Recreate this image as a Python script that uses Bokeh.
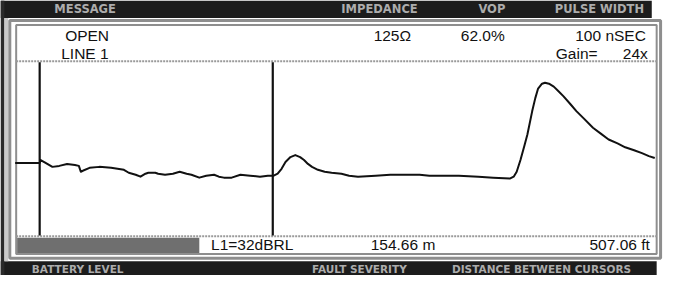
from bokeh.plotting import figure
from bokeh.models import Range1d, Label
from bokeh.embed import file_html
from bokeh.resources import INLINE

# ---------------- data ----------------
# TDR trace: distance from cursor 1 (metres) and reflected amplitude (arbitrary units)
dist_m = [-16.25, 0.0, 0.65, 3.9, 8.45, 13.0, 18.2, 23.4, 26.0, 27.3, 28.6, 33.1, 39.6,
          47.4, 55.9, 59.1, 63.7, 66.9, 70.2, 72.1, 76.7, 78.6, 83.2, 88.4, 92.9, 97.5,
          100.7, 105.9, 110.5, 115.7, 118.9, 122.2, 127.4, 133.2, 139.7, 146.2, 151.4,
          155.3, 157.9, 160.5, 163.1, 166.4, 169.6, 172.8, 175.4, 178.0, 180.7, 184.6,
          189.1, 193.7, 200.2, 205.3, 211.2, 222.9, 232.6, 242.4, 252.1, 258.6, 265.1,
          278.1, 291.1, 300.9, 311.9, 314.5, 316.5, 319.0, 321.7, 323.6, 326.8, 328.8,
          330.7, 333.3, 335.3, 337.9, 341.1, 344.4, 347.6, 352.2, 356.1, 361.3, 367.1,
          372.3, 377.5, 383.4, 388.5, 394.4, 399.6, 404.2, 408.1]
amplitude = [0, 0, 3, 0, -4, -3, -1, -2, -3, -9, -8, -5, -4,
             -5, -7, -10, -12, -14, -11, -10, -10, -11, -12, -11, -9, -11,
             -12, -15, -13, -12, -14, -15, -15, -12, -13, -14, -13,
             -13, -11, -6, 1, 6, 8, 6, 3, -1, -4, -7,
             -9, -10, -11, -13, -14, -13, -12, -12, -12, -13, -13,
             -13, -14, -15, -16, -14, -9, 3, 18, 29, 53, 66,
             76, 81, 82, 81, 78, 73, 68, 60, 53, 45, 36,
             30, 24, 20, 16, 13, 10, 7, 5]
cursor_m = [0.0, 154.66]

header_labels = ["MESSAGE", "IMPEDANCE", "VOP", "PULSE WIDTH"]
footer_labels = ["BATTERY LEVEL", "FAULT SEVERITY", "DISTANCE BETWEEN CURSORS"]
message_lines = ["OPEN", "LINE 1"]
impedance = "125\u03a9"
vop = "62.0%"
pulse_width = "100 nSEC"
gain = "24x"
fault_severity = "L1=32dBRL"
distance_m = "154.66 m"
distance_ft = "507.06 ft"

# ---------------- layout (screen-like coordinates) ----------------
W, H = 664, 275
p = figure(width=W, height=H, x_range=Range1d(2, 680), y_range=Range1d(291, 10),
           output_backend="svg", toolbar_location=None, min_border=0,
           x_axis_type=None, y_axis_type=None)
p.grid.visible = False
p.outline_line_color = None
p.background_fill_color = "white"
p.border_fill_color = "white"

p.extra_x_ranges = {"dist": Range1d(-25.99, 414.57)}
p.extra_y_ranges = {"amp": Range1d(-115, 166)}

DARK = "#1c1c1c"
GREY = "#8e8e8e"

# dark bands and left stripe
p.quad(left=[2], right=[667], top=[10], bottom=[28], fill_color=DARK, line_color=None)
p.quad(left=[2], right=[672], top=[276.5], bottom=[291], fill_color=DARK, line_color=None)
p.quad(left=[2], right=[6], top=[10], bottom=[291], fill_color="#2a2a2a", line_color=None)
p.quad(left=[6], right=[10], top=[28], bottom=[276.5], fill_color="#c9c9c9", line_color=None)

# outer panel frame
p.quad(left=[11.5], right=[676], top=[30.5], bottom=[273.5], fill_color=None,
       line_color=GREY, line_width=3)
# inner panel frame
p.quad(left=[18], right=[672], top=[35], bottom=[269], fill_color="white",
       line_color=GREY, line_width=2)
# separators
p.segment(x0=[18, 18], x1=[672, 672], y0=[72, 251], y1=[72, 251],
          line_color="#9a9a9a", line_width=2, line_dash="2 1")
# battery bar
p.quad(left=[19], right=[205], top=[252.5], bottom=[268], fill_color="#6f6f6f",
       line_color=None)

# cursors
p.segment(x0=cursor_m, x1=cursor_m, y0=[73, 73], y1=[250, 250], x_range_name="dist",
          line_color="#111111", line_width=2.2)

# trace
p.line(dist_m, amplitude, x_range_name="dist", y_range_name="amp",
       line_color="#111111", line_width=2, line_join="round")


def lab(x, y, t, size, align="left", color="#111111", font="Liberation Sans",
        style="normal"):
    p.add_layout(Label(x=x, y=y, text=t, text_font=font, text_font_size=size,
                       text_align=align, text_baseline="middle", text_color=color,
                       text_font_style=style))


band_font = "DejaVu Sans"
band_col = "#acacac"
for t, x in zip(header_labels, [57, 350, 490, 568]):
    lab(x, 19, t, "11.5px", color=band_col, font=band_font, style="bold")
for t, x in zip(footer_labels, [34, 320, 463]):
    lab(x, 284, t, "10.5px", color=band_col, font=band_font, style="bold")

fs = "15.5px"
lab(68, 46, message_lines[0], fs)
lab(64, 64, message_lines[1], fs)
lab(383, 46, impedance, fs)
lab(472, 46, vop, fs)
lab(661, 46, pulse_width, fs, align="right")
lab(569, 64, "Gain=", fs)
lab(663, 64, gain, fs, align="right")
lab(217, 259, fault_severity, fs)
lab(380, 259, distance_m, fs)
lab(665, 259, distance_ft, fs, align="right")

open("out.html", "w").write(file_html(p, INLINE))
